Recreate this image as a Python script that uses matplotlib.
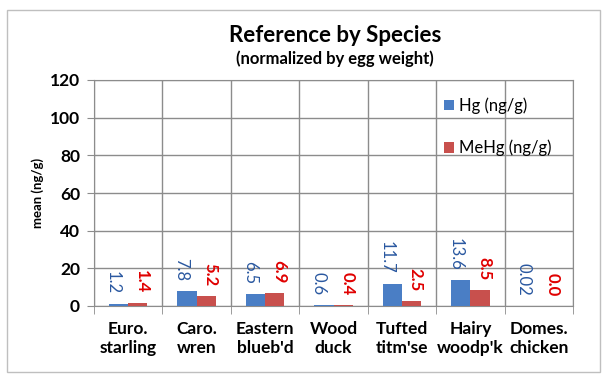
import numpy as np
import matplotlib
matplotlib.use("Agg")
import matplotlib.pyplot as plt
from matplotlib.patches import Rectangle

plt.rcParams['font.family'] = ['Lato', 'DejaVu Sans']

# data
species = ["Euro.\nstarling", "Caro.\nwren", "Eastern\nblueb'd", "Wood\nduck",
           "Tufted\ntitm'se", "Hairy\nwoodp'k", "Domes.\nchicken"]
hg = [1.2, 7.8, 6.5, 0.6, 11.7, 13.6, 0.02]
mehg = [1.4, 5.2, 6.9, 0.4, 2.5, 8.5, 0.0]
hg_text = ["1.2", "7.8", "6.5", "0.6", "11.7", "13.6", "0.02"]
mehg_text = ["1.4", "5.2", "6.9", "0.4", "2.5", "8.5", "0.0"]
yticks = [0, 20, 40, 60, 80, 100, 120]

blue = "#4A7EC5"
red = "#C8504D"
grid_col = "#8C8C8C"

fig = plt.figure(figsize=(6.1, 3.8), dpi=100)
ax = fig.add_axes([94/610, 74/380, 479/610, 226/380])

x = np.arange(len(species))
w = 0.28
b1 = ax.bar(x - w/2, hg, w, color=blue, label="Hg (ng/g)", zorder=3)
b2 = ax.bar(x + w/2, mehg, w, color=red, label="MeHg (ng/g)", zorder=3)

# rotated value labels above bars
for i in range(len(species)):
    ax.annotate(hg_text[i], (x[i] - w/2, hg[i]), xytext=(-4, 7), textcoords="offset points",
                rotation=-90, ha="center", va="bottom", fontsize=12, color="#2A58A0", zorder=4)
    ax.annotate(mehg_text[i], (x[i] + w/2, mehg[i]), xytext=(3, 7), textcoords="offset points",
                rotation=-90, ha="center", va="bottom", fontsize=12, color="#E00000",
                fontweight="bold", zorder=4)

ax.set_xlim(-0.5, len(species) - 0.5)
ax.set_ylim(0, 120)
ax.set_yticks(yticks)
ax.set_yticklabels([str(t) for t in yticks], fontweight="bold", fontsize=12.5)
ax.set_xticks(x)
ax.set_xticklabels(species, fontweight="bold", fontsize=12.5, linespacing=1.2)
ax.set_xticks(np.arange(len(species) + 1) - 0.5, minor=True)
ax.tick_params(axis="x", which="major", length=0, pad=11)
ax.tick_params(axis="x", which="minor", length=6, color=grid_col)
ax.tick_params(axis="y", length=5, color=grid_col, pad=5)
ax.grid(True, axis="y", color=grid_col, lw=1, zorder=0)
ax.grid(True, axis="x", which="minor", color=grid_col, lw=1, zorder=0)
for s in ax.spines.values():
    s.set_color(grid_col)
ax.set_ylabel("mean (ng/g)", fontweight="bold", fontsize=9.5, labelpad=4)

ax.legend(handles=[b1, b2], loc="upper left", bbox_to_anchor=(0.70, 0.99), frameon=False,
          fontsize=12, labelspacing=1.55, handlelength=0.6, handleheight=0.6, handletextpad=0.3)

fig.text(0.549, 1 - 35/380, "Reference by Species", ha="center", va="center",
         fontsize=16, fontweight="bold")
fig.text(0.549, 1 - 59/380, "(normalized by egg weight)", ha="center", va="center",
         fontsize=12, fontweight="bold")

fig.patches.append(Rectangle((7/610, 8/380), 593/610, 362/380, transform=fig.transFigure,
                             fill=False, edgecolor="#BFBFBF", lw=1))

fig.savefig("out.png", dpi=100)
